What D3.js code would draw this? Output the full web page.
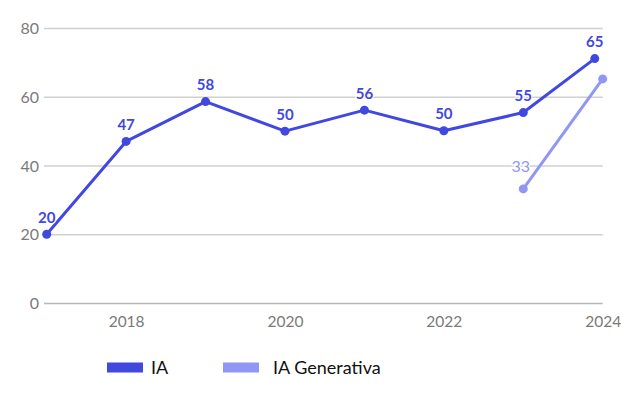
<!DOCTYPE html>
<html><head><meta charset="utf-8">
<script src="https://cdn.jsdelivr.net/npm/d3@7"></script>
<style>body{margin:0;background:#fff}svg{display:block;font-family:Lato,"Open Sans",sans-serif}</style>
</head><body><svg id="c" width="641" height="395"></svg>
<script>
const iaYears = [2017, 2018, 2019, 2020, 2021, 2022, 2023, 2023.9];
const iaValues = [20, 47, 58.6, 50, 56.1, 50.1, 55.4, 71.1];
const iaLabels = ["20", "47", "58", "50", "56", "50", "55", "65"];
const genYears = [2023, 2024];
const genValues = [33.2, 65.2];
const genLabels = ["33", ""];
const yTicks = [0, 20, 40, 60, 80];
const xTicks = [2018, 2020, 2022, 2024];
const seriesNames = ["IA", "IA Generativa"];
const colors = ["#4048e0", "#9097f2"];

const svg = d3.select("#c");
const x = d3.scaleLinear().domain([2017, 2024]).range([46.7, 602.7]);
const y = d3.scaleLinear().domain([0, 80]).range([303, 28]);

const yAxis = d3.axisLeft(y).tickValues(yTicks).tickSize(-(602.7 - 44)).tickPadding(6);
const gy = svg.append("g").attr("transform", "translate(44,0)").call(yAxis);
gy.select(".domain").remove();
gy.selectAll(".tick line").attr("stroke", "#d0d0d0").attr("stroke-width", 1.3);
gy.selectAll(".tick line").filter(d => d === 0).attr("stroke", "#b8b8b8");
gy.selectAll(".tick text").attr("fill", "#7a7a7a").attr("font-size", 16).attr("font-family", "Lato").attr("x", -5).attr("dy", "0.35em");

const xAxis = d3.axisBottom(x).tickValues(xTicks).tickFormat(d3.format("d")).tickSize(0).tickPadding(10);
const gx = svg.append("g").attr("transform", "translate(0,303)").call(xAxis);
gx.select(".domain").remove();
gx.selectAll(".tick text").attr("fill", "#7a7a7a").attr("font-size", 15.5).attr("font-family", "Lato").attr("dy", "0.92em");

const line = d3.line().x(d => x(d[0])).y(d => y(d[1]));
function series(years, values, labels, color, bold, dx, dy) {
  const data = years.map((yr, i) => [yr, values[i], labels[i]]);
  svg.append("path").datum(data).attr("d", line).attr("fill", "none").attr("stroke", color).attr("stroke-width", 3).attr("stroke-linejoin", "round");
  svg.append("g").selectAll("circle").data(data).join("circle")
    .attr("cx", d => x(d[0])).attr("cy", d => y(d[1])).attr("r", 4.5).attr("fill", color);
  svg.append("g").selectAll("text").data(data.filter(d => d[2] !== "")).join("text")
    .attr("x", d => x(d[0]) + dx).attr("y", d => y(d[1]) - dy)
    .attr("text-anchor", "middle").attr("font-size", bold ? 15 : 16).attr("font-weight", bold ? 700 : 400)
    .attr("fill", color).attr("stroke", "#fff").attr("stroke-width", 2.5).attr("paint-order", "stroke")
    .text(d => d[2]);
}
series(genYears, genValues, genLabels, colors[1], false, -2.5, 17);
series(iaYears, iaValues, iaLabels, colors[0], true, 0, 11.5);

const legX = [107, 223];
const legTextX = [151, 273];
seriesNames.forEach((n, i) => {
  svg.append("rect").attr("x", legX[i]).attr("y", 362.5).attr("width", 36).attr("height", 10).attr("fill", colors[i]);
  svg.append("text").attr("x", legTextX[i]).attr("y", 374).attr("font-size", 18).attr("fill", "#111").text(n);
});
</script></body></html>
